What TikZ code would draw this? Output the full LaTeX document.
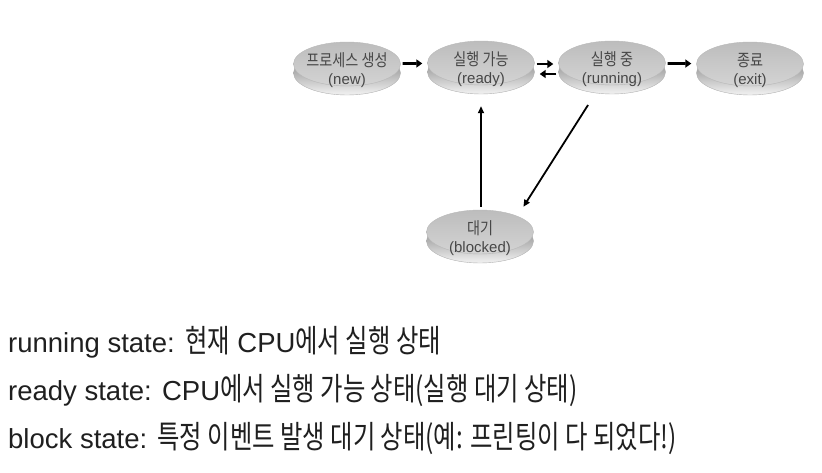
\documentclass[tikz,border=0pt]{standalone}
\usepackage{fontspec}
\setmainfont{Liberation Sans}
\newfontfamily\kr{Noto Sans CJK KR}[FakeStretch=0.77,Scale=1.15]
\newfontfamily\krn{Noto Sans CJK KR}[FakeStretch=0.84,Scale=1.12]
\newcommand\kline[1]{{\krn\rule{0pt}{26pt}#1}}
\usetikzlibrary{shapes.geometric,shadows,arrows.meta}

\begin{document}
\begin{tikzpicture}[x=1pt,y=1pt,
  disk/.style={ellipse,minimum width=107pt,minimum height=44pt,inner xsep=-6pt,inner ysep=-8pt,
    align=center,font=\fontsize{15}{17.5}\selectfont,text=black!72,
    top color=black!26,bottom color=black!17,draw=black!28,
    general shadow={shadow yshift=-9pt,top color=black!55,bottom color=black!5,draw=black!30}},
  fat/.style={line width=2.8pt,-{Triangle[length=6pt,width=8pt]},shorten <=2pt,shorten >=5pt},
  thin/.style={line width=1.8pt,-{Triangle[length=7pt,width=6pt]}},
  note/.style={anchor=base west,font=\fontsize{27.5}{31}\selectfont,text=black!88,inner sep=0pt}]
\useasboundingbox (0,0) rectangle (822,-472);
\node[disk] (new) at (347,-64) {\kline{프로세스 생성}\\(new)};
\node[disk] (ready) at (481,-63) {\kline{실행 가능}\\(ready)};
\node[disk] (running) at (612,-63) {\kline{실행 중}\\(running)};
\node[disk] (exit) at (750,-64) {\kline{종료}\\(exit)};
\node[disk] (blocked) at (480,-232) {\kline{대기}\\(blocked)};
\draw[fat] (new) -- (ready);
\draw[fat] ([yshift=-1]ready.east) -- ([yshift=-1]running.west);
\draw[fat] ([yshift=-11]running.west) -- ([yshift=-11]ready.east);
\draw[fat] (running) -- (exit);
\draw[thin,shorten <=3pt,shorten >=21pt] (blocked.north -| ready.south) -- (ready.south);
\draw[thin,shorten <=24pt,shorten >=11pt] (running.243) -- (blocked.23);
\node[note] (l1) at (8,-352) {running state: {\kr 현재} CPU{\kr 에서 실행 상태}};
\node[note] (l2) at (8,-400) {ready state: CPU{\kr 에서 실행 가능 상태(실행 대기 상태)}};
\node[note] (l3) at (8,-448) {block state: {\kr 특정 이벤트 발생 대기 상태(예: 프린팅이 다 되었다!)}};
\end{tikzpicture}
\end{document}
